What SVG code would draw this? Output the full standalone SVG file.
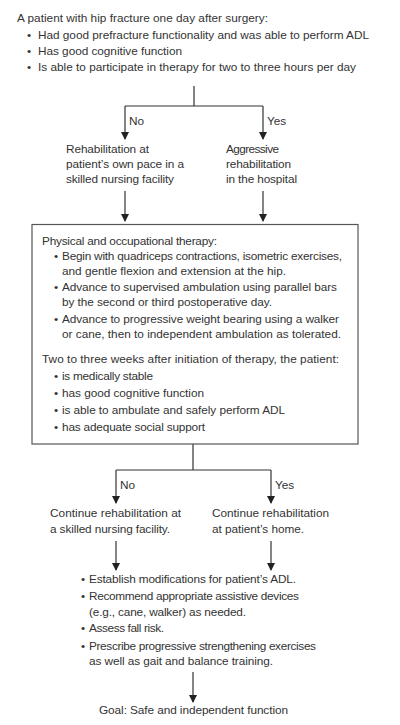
<svg xmlns="http://www.w3.org/2000/svg" width="400" height="725" viewBox="0 0 400 725">
<defs>
<marker id="ah" markerWidth="8" markerHeight="10" refX="7" refY="4" orient="auto" markerUnits="userSpaceOnUse" viewBox="0 0 8 10">
<path d="M0,0 L8,4 L0,8 Z" fill="#222"/>
</marker>
<style>
text{font-family:"Liberation Sans",Arial,sans-serif;font-size:11.8px;fill:#333}
.ln{stroke:#333;stroke-width:1.2;fill:none}
.ar{stroke:#333;stroke-width:1.2;fill:none;marker-end:url(#ah)}
.box{fill:#fff;stroke:#555;stroke-width:1.2}
</style>
</defs>
<rect width="400" height="725" fill="#fff"/>
<g id="start">
<text x="17" y="22" textLength="251">A patient with hip fracture one day after surgery:</text>
<text x="27" y="39">•</text><text x="38" y="39" textLength="331">Had good prefracture functionality and was able to perform ADL</text>
<text x="27" y="55">•</text><text x="38" y="55" textLength="144">Has good cognitive function</text>
<text x="27" y="71">•</text><text x="38" y="71" textLength="318">Is able to participate in therapy for two to three hours per day</text>
</g>
<g id="connectors">
<path class="ln" d="M194,86 V106 M125,106 H263"/>
<path class="ar" d="M125,106 V139"/>
<path class="ar" d="M263,106 V139"/>
<text x="129" y="125">No</text>
<text x="267" y="125">Yes</text>
<path class="ar" d="M125,191 V221"/>
<path class="ar" d="M263,191 V221"/>
<path class="ln" d="M193,444 V470 M116,470 H271"/>
<path class="ar" d="M116,470 V503"/>
<path class="ar" d="M271,470 V503"/>
<text x="120" y="489">No</text>
<text x="275" y="489">Yes</text>
<path class="ar" d="M116,541 V570"/>
<path class="ar" d="M271,541 V570"/>
<path class="ar" d="M193,672 V702"/>
</g>
<g id="snf">
<text x="66" y="153" textLength="83">Rehabilitation at</text>
<text x="66" y="168" textLength="118">patient’s own pace in a</text>
<text x="66" y="183" textLength="108">skilled nursing facility</text>
</g>
<g id="hospital">
<text x="226" y="153" textLength="53">Aggressive</text>
<text x="226" y="168" textLength="65">rehabilitation</text>
<text x="226" y="183" textLength="71">in the hospital</text>
</g>
<g id="therapy">
<rect class="box" x="32" y="224.5" width="326" height="219.5"/>
<text x="42" y="245" textLength="175">Physical and occupational therapy:</text>
<text x="54" y="260">•</text><text x="62" y="260" textLength="280">Begin with quadriceps contractions, isometric exercises,</text>
<text x="62" y="275" textLength="224">and gentle flexion and extension at the hip.</text>
<text x="54" y="291">•</text><text x="62" y="291" textLength="275">Advance to supervised ambulation using parallel bars</text>
<text x="62" y="306" textLength="210">by the second or third postoperative day.</text>
<text x="54" y="323">•</text><text x="62" y="323" textLength="277">Advance to progressive weight bearing using a walker</text>
<text x="62" y="338" textLength="279">or cane, then to independent ambulation as tolerated.</text>
<text x="42" y="363" textLength="297">Two to three weeks after initiation of therapy, the patient:</text>
<text x="54" y="380">•</text><text x="62" y="380" textLength="91">is medically stable</text>
<text x="54" y="397">•</text><text x="62" y="397" textLength="142">has good cognitive function</text>
<text x="54" y="414">•</text><text x="62" y="414" textLength="223">is able to ambulate and safely perform ADL</text>
<text x="54" y="431">•</text><text x="62" y="431" textLength="143">has adequate social support</text>
</g>
<g id="cont-snf">
<text x="50" y="517" textLength="131">Continue rehabilitation at</text>
<text x="50" y="533" textLength="120">a skilled nursing facility.</text>
</g>
<g id="cont-home">
<text x="212" y="517" textLength="117">Continue rehabilitation</text>
<text x="212" y="533" textLength="92">at patient’s home.</text>
</g>
<g id="actions">
<text x="81" y="583">•</text><text x="89" y="583" textLength="207">Establish modifications for patient’s ADL.</text>
<text x="81" y="600">•</text><text x="89" y="600" textLength="210">Recommend appropriate assistive devices</text>
<text x="89" y="616" textLength="157">(e.g., cane, walker) as needed.</text>
<text x="81" y="632">•</text><text x="89" y="632" textLength="75">Assess fall risk.</text>
<text x="81" y="650">•</text><text x="89" y="650" textLength="227">Prescribe progressive strengthening exercises</text>
<text x="89" y="665" textLength="184">as well as gait and balance training.</text>
</g>
<g id="goal">
<text x="99" y="714" textLength="189">Goal: Safe and independent function</text>
</g>
</svg>
